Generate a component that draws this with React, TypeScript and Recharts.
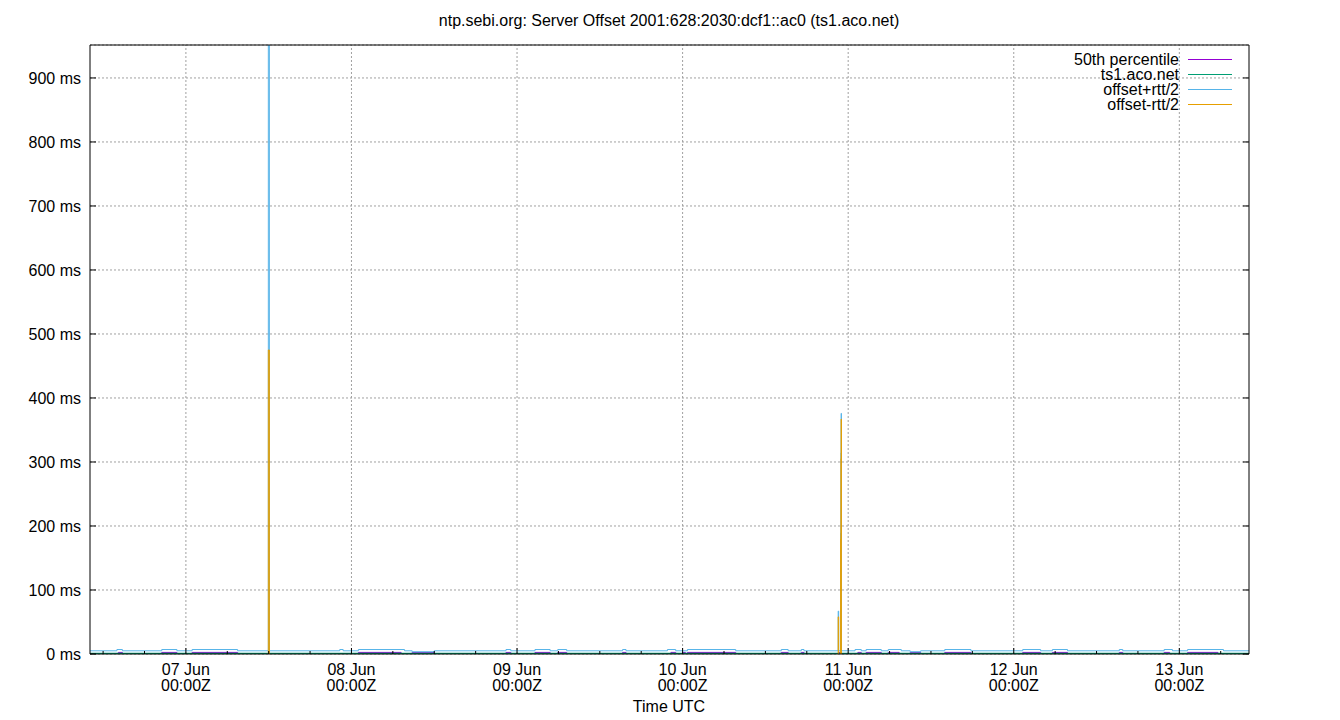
import { LineChart, Line, XAxis, YAxis, CartesianGrid, ReferenceLine, Legend } from "recharts"

const chartTitle = "ntp.sebi.org: Server Offset 2001:628:2030:dcf1::ac0 (ts1.aco.net)"
const xTitle = "Time UTC"

const seriesNames = ["50th percentile", "ts1.aco.net", "offset+rtt/2", "offset-rtt/2"]
const seriesColors = ["#9400d3", "#009e73", "#56b4e9", "#e69f00"]

// [hours since 07 Jun 00:00Z, ms]
const percentile50: [number, number][] = [
  [-13.9, 0.8], [-9.8, 2.5], [-9.2, 0.8], [-3.5, 2.5], [-1.3, 0.8], [0.9, 2.5], [7.5, 0.8],
  [25, 2.5], [31.2, 0.8], [32.8, 2.5], [36, 0.8], [46.4, 2.5], [47.1, 0.8], [50.6, 2.5],
  [52.8, 0.8], [53.9, 2.5], [55.2, 0.8], [63.3, 2.5], [63.8, 0.8], [70.3, 2.5], [71, 0.8],
  [72, 2.5], [72.4, 0.8], [72.7, 2.5], [79.7, 0.8], [86.3, 2.5], [87.3, 0.8], [89.2, 2.5],
  [89.6, 0.8], [94.6, 2.5], [95, 0.8], [97.4, 2.5], [97.9, 0.8], [98.6, 2.5], [100.8, 0.8],
  [101.8, 2.5], [103.4, 0.8], [105, 2.5], [106.5, 0.8], [110, 2.5], [113.8, 0.8], [121.3, 2.5],
  [123.9, 0.8], [125.6, 2.5], [127.8, 0.8], [135.3, 2.5], [135.8, 0.8], [141.8, 2.5], [142.6, 0.8],
  [145.2, 2.5], [149.6, 0.8], [154.1, 0.8],
]

const ts1Offset: [number, number][] = [
  [-13.9, 0.8], [30, 0.7], [60, 0.8], [120, 0.7], [154.1, 0.8],
]

const offsetPlusRtt: [number, number][] = [
  [-13.9, 5], [-10, 7], [-9.2, 5], [-3.5, 7], [-1.3, 5], [0.9, 7], [7.5, 5], [11.95, 1450],
  [12.1, 5], [22.3, 7], [22.8, 5], [25, 7], [31.7, 5], [32.8, 3.5], [36, 5], [46.4, 7],
  [47.1, 5], [50.6, 7], [52.8, 5], [53.9, 7], [55.2, 5], [63.3, 7], [63.8, 5], [69.8, 7],
  [71, 5], [72.7, 7], [79.7, 5], [86.3, 7], [87.3, 5], [89.2, 7], [89.6, 5], [94.55, 67],
  [94.62, 5], [94.9, 189], [94.94, 314], [94.98, 376], [95.02, 5], [97, 7], [97.9, 5],
  [98.6, 7], [100.8, 5], [101.8, 7], [103.7, 5], [105, 3.5], [106.5, 5], [110, 7], [113.8, 5],
  [121.3, 7], [123.9, 5], [125.6, 7], [127.8, 5], [135.3, 7], [135.8, 5], [141.8, 7], [143, 5],
  [145.2, 7], [150.4, 5], [154.1, 5],
]

const offsetMinusRtt: [number, number][] = [
  [-13.9, -4], [11.95, 475], [12.1, -4], [94.55, 58], [94.62, -4], [94.9, 180],
  [94.94, 305], [94.98, 367], [95.02, -4], [154.1, -4],
]

const seriesData = [percentile50, ts1Offset, offsetPlusRtt, offsetMinusRtt]

const dayLabels = ["07 Jun", "08 Jun", "09 Jun", "10 Jun", "11 Jun", "12 Jun", "13 Jun"]
const dayHours = [0, 24, 48, 72, 96, 120, 144]
const timeOfDay = "00:00Z"
const hourTicks = [
  -12, -6, 0, 6, 12, 18, 24, 30, 36, 42, 48, 54, 60, 66, 72, 78, 84, 90, 96, 102, 108, 114,
  120, 126, 132, 138, 144, 150,
]
const msTicks = [0, 100, 200, 300, 400, 500, 600, 700, 800, 900]

const FONT = "'Liberation Sans', Arial, sans-serif"

function BottomTick({ x, y, payload }: any) {
  const i = dayHours.indexOf(payload.value)
  const major = i >= 0
  return (
    <g>
      <line x1={x} x2={x} y1={y} y2={y - (major ? 6 : 3)} stroke="#000" />
      {major && (
        <text textAnchor="middle" fontSize={16} fontFamily={FONT} fill="#000">
          <tspan x={x} y={y + 21}>{dayLabels[i]}</tspan>
          <tspan x={x} y={y + 37}>{timeOfDay}</tspan>
        </text>
      )}
    </g>
  )
}

function TopTick({ x, y, payload }: any) {
  const major = dayHours.includes(payload.value)
  return <line x1={x} x2={x} y1={y} y2={y + (major ? 6 : 3)} stroke="#000" />
}

function LeftTick({ x, y, payload }: any) {
  return (
    <g>
      <line x1={x} x2={x + 6} y1={y} y2={y} stroke="#000" />
      <text x={x - 9} y={y + 6} textAnchor="end" fontSize={16} fontFamily={FONT} fill="#000">
        {`${payload.value} ms`}
      </text>
    </g>
  )
}

function RightTick({ x, y }: any) {
  return <line x1={x - 6} x2={x} y1={y} y2={y} stroke="#000" />
}

function LegendBox() {
  return (
    <svg width={245} height={62}>
      {seriesNames.map((name, i) => (
        <g key={name}>
          <text x={179} y={8 + i * 15 + 6} textAnchor="end" fontSize={16} fontFamily={FONT} fill="#000">
            {name}
          </text>
          <line x1={188} x2={232} y1={8.5 + i * 15} y2={8.5 + i * 15} stroke={seriesColors[i]} />
        </g>
      ))}
    </svg>
  )
}

export default function App() {
  return (
    <div style={{ position: "absolute", left: 0, top: 0, width: 1340, height: 720, background: "#fff" }}>
      <svg width={1340} height={720} style={{ position: "absolute", left: 0, top: 0 }}>
        <text x={669} y={26} textAnchor="middle" fontSize={16} fontFamily={FONT} fill="#000">
          {chartTitle}
        </text>
        <text x={669} y={712} textAnchor="middle" fontSize={16} fontFamily={FONT} fill="#000">
          {xTitle}
        </text>
      </svg>
      <LineChart width={1340} height={720} margin={{ top: 44, right: 90, bottom: 65, left: 89 }}>
        <CartesianGrid vertical={false} stroke="#a0a0a0" strokeDasharray="2 2" />
        {dayHours.map((h) => (
          <ReferenceLine key={h} x={h} stroke="#a0a0a0" strokeDasharray="2 2" />
        ))}
        <XAxis
          dataKey="t"
          type="number"
          domain={[-13.9, 154.1]}
          allowDataOverflow
          ticks={hourTicks}
          interval={0}
          height={1}
          tickSize={0}
          tickMargin={0}
          tickLine={false}
          axisLine={{ stroke: "#000" }}
          tick={<BottomTick />}
        />
        <XAxis
          xAxisId="top"
          orientation="top"
          type="number"
          domain={[-13.9, 154.1]}
          allowDataOverflow
          ticks={hourTicks}
          interval={0}
          height={1}
          tickSize={0}
          tickMargin={0}
          tickLine={false}
          axisLine={{ stroke: "#000" }}
          tick={<TopTick />}
        />
        <YAxis
          type="number"
          domain={[0, 951.5]}
          allowDataOverflow
          ticks={msTicks}
          interval={0}
          width={1}
          tickSize={0}
          tickMargin={0}
          tickLine={false}
          axisLine={{ stroke: "#000" }}
          tick={<LeftTick />}
        />
        <YAxis
          yAxisId="right"
          orientation="right"
          type="number"
          domain={[0, 951.5]}
          allowDataOverflow
          ticks={msTicks}
          interval={0}
          width={1}
          tickSize={0}
          tickMargin={0}
          tickLine={false}
          axisLine={{ stroke: "#000" }}
          tick={<RightTick />}
        />
        <Legend
          content={<LegendBox />}
          layout="horizontal"
          verticalAlign="middle"
          align="center"
          wrapperStyle={{ position: "absolute", left: 1000, top: 51, width: 245, height: 62 }}
        />
        {seriesData.map((pts, i) => (
          <Line
            key={seriesNames[i]}
            name={seriesNames[i]}
            data={pts.map(([t, v]) => ({ t, v }))}
            dataKey="v"
            type="stepAfter"
            stroke={seriesColors[i]}
            strokeWidth={i === 1 ? 1.5 : 1}
            dot={false}
            activeDot={false}
            isAnimationActive={false}
          />
        ))}
      </LineChart>
    </div>
  )
}
